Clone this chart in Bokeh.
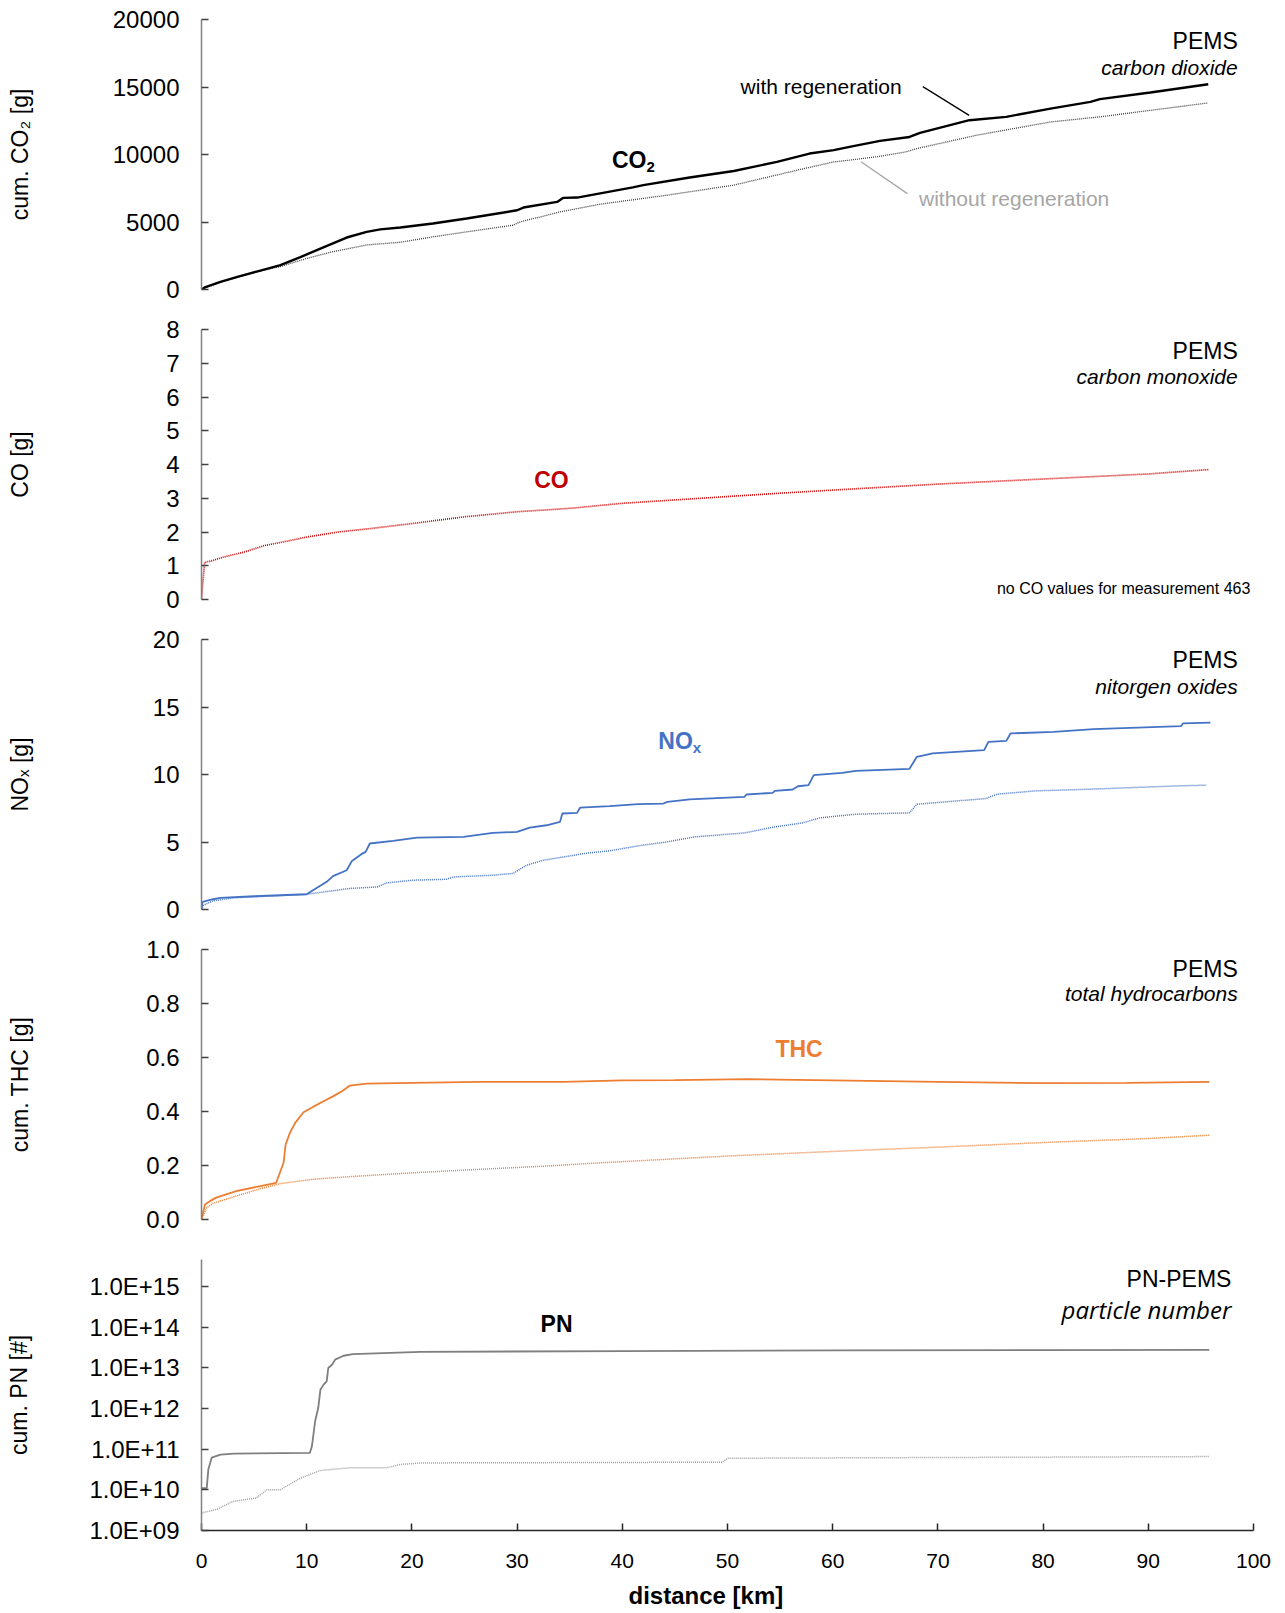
from bokeh.plotting import figure
from bokeh.layouts import column
from bokeh.models import Range1d, FixedTicker, CustomJSTickFormatter, NumeralTickFormatter, Title
from bokeh.core.properties import value
from bokeh.embed import file_html
from bokeh.resources import INLINE

FONT = "Liberation Sans"

# ---------------- data (distance in km) ----------------
co2_with_km = [0, 0.3, 1.8, 3.5, 5.6, 7.5, 9.4, 11.3, 13.8, 15.7, 17.0, 18.9, 22.0, 25.2, 30.0, 30.6,
               33.8, 34.4, 35.7, 41.0, 42.0, 46.4, 50.6, 54.7, 57.8, 60.1, 61.6, 64.5, 67.3, 68.3,
               73.0, 76.5, 80.7, 84.5, 85.4, 90.2, 95.7]
co2_with_g = [0, 150, 560, 950, 1400, 1800, 2400, 3030, 3850, 4270, 4450, 4590, 4890, 5260, 5870, 6070,
              6490, 6790, 6810, 7560, 7730, 8300, 8780, 9450, 10070, 10320, 10560, 11010, 11300, 11600,
              12540, 12790, 13400, 13900, 14100, 14590, 15200]
co2_without_km = [0, 1.8, 3.5, 5.6, 7.5, 10.0, 12.5, 15.7, 18.9, 22.0, 25.2, 29.6, 30.3, 34.1, 37.9,
                  44.2, 50.6, 56.9, 60.1, 61.6, 64.5, 67.0, 68.0, 73.7, 80.7, 85.4, 95.7]
co2_without_g = [0, 540, 930, 1380, 1700, 2300, 2800, 3300, 3500, 3900, 4270, 4760, 5010, 5750, 6320,
                 6980, 7730, 8890, 9450, 9580, 9870, 10200, 10440, 11430, 12410, 12790, 13820]

co_km = [0, 0.15, 0.3, 1, 2, 4, 6, 8, 10, 13, 16, 20, 25, 30, 35, 40, 45, 50, 55, 61.6, 70, 80, 90, 95.8]
co_g = [0, 0.6, 1.1, 1.15, 1.25, 1.4, 1.6, 1.72, 1.85, 2.0, 2.1, 2.25, 2.45, 2.6, 2.7, 2.85, 2.95,
        3.05, 3.15, 3.27, 3.42, 3.57, 3.72, 3.85]

nox_with_km = [0, 0.1, 1.1, 1.8, 5, 10, 10.6, 11.9, 12.5, 13.8, 14.3, 15.2, 15.6, 16.0, 18.2, 20.5,
               24.9, 27.7, 30, 31.2, 32.8, 34.08, 34.3, 35.7, 36.0, 38.8, 41.5, 43.9, 44.3, 46.4,
               51.6, 51.8, 54.3, 54.5, 56.2, 56.7, 57.7, 58.2, 60.9, 62.2, 67.3, 68.0, 69.5, 74.4,
               74.8, 76.5, 76.9, 81, 84.8, 93.1, 93.3, 95.9]
nox_with_g = [0, 0.56, 0.76, 0.86, 0.98, 1.13, 1.43, 2.05, 2.47, 2.91, 3.6, 4.1, 4.27, 4.89, 5.08, 5.33,
              5.38, 5.67, 5.75, 6.07, 6.24, 6.49, 7.11, 7.16, 7.55, 7.65, 7.8, 7.85, 7.97, 8.15,
              8.34, 8.52, 8.64, 8.79, 8.89, 9.13, 9.21, 9.95, 10.12, 10.27, 10.42, 11.31, 11.56, 11.8,
              12.42, 12.49, 13.04, 13.16, 13.36, 13.58, 13.78, 13.85]
nox_without_km = [0, 0.2, 1.1, 3, 10, 12.2, 14.1, 16.7, 17.6, 20.1, 23.3, 23.9, 27.7, 29.6, 30.9, 32.5,
                  34.1, 36.6, 38.8, 41.7, 44.1, 46.9, 51.6, 54.5, 57.1, 58.8, 62.2, 67.3, 68.0, 74.6,
                  75.6, 79.3, 84.4, 92.9, 95.5]
nox_without_g = [0, 0.32, 0.64, 0.86, 1.13, 1.36, 1.56, 1.67, 1.97, 2.17, 2.24, 2.41, 2.54, 2.67, 3.28,
                 3.65, 3.85, 4.17, 4.35, 4.74, 4.99, 5.38, 5.67, 6.12, 6.41, 6.79, 7.06, 7.16, 7.8,
                 8.22, 8.54, 8.79, 8.91, 9.16, 9.21]

thc_with_km = [0, 0.33, 0.8, 1.4, 3.3, 5.6, 7.1, 7.8, 8.0, 8.4, 8.9, 9.7, 10.6, 11.6, 12.5, 13.5, 14.1,
               15.7, 20.1, 26.5, 34.4, 40, 45, 52, 60, 70, 80, 88, 95.8]
thc_with_g = [0, 0.056, 0.068, 0.081, 0.105, 0.124, 0.136, 0.21, 0.278, 0.321, 0.358, 0.397, 0.417,
              0.438, 0.456, 0.479, 0.496, 0.503, 0.506, 0.510, 0.51, 0.515, 0.516, 0.52, 0.515, 0.51,
              0.505, 0.506, 0.51]
thc_without_km = [0, 0.5, 1.1, 3.3, 5.6, 7.5, 10.6, 13.8, 20.1, 26.5, 32.8, 37.9, 50, 60, 70, 80, 90, 95.8]
thc_without_g = [0, 0.044, 0.06, 0.087, 0.114, 0.133, 0.149, 0.158, 0.173, 0.186, 0.198, 0.21, 0.235,
                 0.252, 0.268, 0.285, 0.30, 0.312]

pn_with_km = [0, 0.5, 0.65, 0.97, 1.8, 3.1, 10.3, 10.5, 10.8, 11.1, 11.3, 11.6, 11.9, 12.05, 12.4, 12.7,
              13.5, 14.4, 20.8, 40, 60, 80, 95.8]
pn_with_n = [1.1e10, 1.1e10, 3.2e10, 6.2e10, 7.4e10, 7.8e10, 8.1e10, 1.2e11, 4.9e11, 1.05e12, 2.9e12,
             3.9e12, 4.7e12, 1.0e13, 1.2e13, 1.6e13, 2.0e13, 2.2e13, 2.5e13, 2.6e13, 2.7e13, 2.75e13, 2.8e13]
pn_without_km = [0, 1.45, 3.0, 5.2, 6.2, 7.5, 9.4, 11.3, 14.1, 17.6, 18.9, 20.8, 49.5, 50, 95.8]
pn_without_n = [2.7e9, 3.3e9, 5.2e9, 6.3e9, 1.0e10, 1.0e10, 1.95e10, 3.0e10, 3.5e10, 3.5e10, 4.2e10,
                4.6e10, 4.8e10, 6.0e10, 6.6e10]

x_ticks = [0, 10, 20, 30, 40, 50, 60, 70, 80, 90, 100]
pn_ticks = [1e9, 1e10, 1e11, 1e12, 1e13, 1e14, 1e15]

# ---------------- helpers ----------------
FW = 1052


def panel(y_range, frame_h=270, top=12, bottom=28, log=False, show_x=False):
    p = figure(frame_width=FW, frame_height=frame_h, x_range=Range1d(0, 100), y_range=y_range,
               y_axis_type="log" if log else "linear",
               x_axis_location="below" if show_x else None,
               output_backend="svg", toolbar_location=None,
               min_border_left=201, min_border_right=24, min_border_top=top, min_border_bottom=bottom)
    p.outline_line_color = None
    p.xgrid.visible = False
    p.ygrid.visible = False
    p.background_fill_color = "white"
    p.border_fill_color = "white"
    return p


def style_y(p, label, standoff, ticks):
    ax = p.yaxis[0]
    ax.ticker = FixedTicker(ticks=ticks)
    ax.axis_label = label
    ax.axis_label_text_font = FONT
    ax.axis_label_text_font_size = "23px"
    ax.axis_label_text_font_style = "normal"
    ax.axis_label_text_color = "#000000"
    ax.axis_label_standoff = standoff
    ax.major_label_text_font = FONT
    ax.major_label_text_font_size = "24px"
    ax.major_label_text_color = "#000000"
    ax.major_label_standoff = 22
    ax.major_tick_in = 7
    ax.major_tick_out = 0
    ax.minor_tick_line_color = None
    ax.axis_line_color = "#808080"
    ax.axis_line_width = 1.5
    ax.major_tick_line_color = "#404040"
    ax.major_tick_line_width = 1.5


def txt(p, x, y, t, size="21px", style="normal", color="#000000", align="right", font=FONT):
    p.text(x=[x], y=[y], text=[t], text_font=value(font), text_font_size=size,
           text_font_style=style, text_color=color, text_align=align, text_baseline="middle")


# ---------------- CO2 ----------------
p1 = panel(Range1d(0, 20000), top=19)
style_y(p1, "cum. CO\u2082 [g]", 77, [0, 5000, 10000, 15000, 20000])
p1.line(co2_without_km, co2_without_g, line_color="#404040", line_width=1.3, line_dash="1 1")
p1.line(co2_with_km, co2_with_g, line_color="#000000", line_width=2.4)
txt(p1, 98.5, 18380, "PEMS", size="23px")
txt(p1, 98.5, 16470, "carbon dioxide", style="italic")
txt(p1, 42.3, 9615, "CO", size="23px", style="bold")
txt(p1, 42.3, 9100, "2", size="15px", style="bold", align="left")
txt(p1, 58.9, 15030, "with regeneration", align="center")
p1.segment(x0=[68.57], y0=[15030], x1=[72.97], y1=[12896], line_color="#000000", line_width=1.3)
txt(p1, 68.2, 6718, "without regeneration", color="#a6a6a6", align="left")
p1.segment(x0=[62.69], y0=[9466], x1=[67.1], y1=[7103], line_color="#a6a6a6", line_width=1.3)

# ---------------- CO ----------------
p2 = panel(Range1d(0, 8))
style_y(p2, "CO [g]", 130, [0, 1, 2, 3, 4, 5, 6, 7, 8])
p2.line(co_km, co_g, line_color="#d00000", line_width=1.7, line_dash="1 1")
txt(p2, 98.5, 7.36, "PEMS", size="23px")
txt(p2, 98.5, 6.6, "carbon monoxide", style="italic")
txt(p2, 33.26, 3.53, "CO", size="23px", style="bold", color="#c00000", align="center")
txt(p2, 99.7, 0.33, "no CO values for measurement 463", size="16px")

# ---------------- NOx ----------------
p3 = panel(Range1d(0, 20))
style_y(p3, "NO\u2093 [g]", 117, [0, 5, 10, 15, 20])
p3.line(nox_without_km, nox_without_g, line_color="#4472c4", line_width=1.5, line_dash="1 1")
p3.line(nox_with_km, nox_with_g, line_color="#4472c4", line_width=1.8)
txt(p3, 98.5, 18.5, "PEMS", size="23px")
txt(p3, 98.5, 16.53, "nitorgen oxides", style="italic")
txt(p3, 46.7, 12.49, "NO", size="23px", style="bold", color="#4472c4")
txt(p3, 46.7, 12.0, "x", size="15px", style="bold", color="#4472c4", align="left")

# ---------------- THC ----------------
p4 = panel(Range1d(0, 1))
style_y(p4, "cum. THC [g]", 110, [0, 0.2, 0.4, 0.6, 0.8, 1.0])
p4.yaxis[0].formatter = NumeralTickFormatter(format="0.0")
p4.line(thc_without_km, thc_without_g, line_color="#ed7d31", line_width=1.5, line_dash="1 1")
p4.line(thc_with_km, thc_with_g, line_color="#ed7d31", line_width=1.8)
txt(p4, 98.5, 0.928, "PEMS", size="23px")
txt(p4, 98.5, 0.837, "total hydrocarbons", style="italic")
txt(p4, 56.8, 0.631, "THC", size="23px", style="bold", color="#ed7d31", align="center")

# ---------------- PN ----------------
p5 = panel(Range1d(1e9, 10 ** 15.67), frame_h=271, bottom=0, log=True, show_x=True)
style_y(p5, "cum. PN [#]", 54, pn_ticks)
p5.yaxis[0].formatter = CustomJSTickFormatter(
    code="var e = Math.round(Math.log10(tick)); return '1.0E+' + (e < 10 ? '0' + e : '' + e);")
p5.line(pn_without_km, pn_without_n, line_color="#a0a0a0", line_width=1.5, line_dash="1 1")
p5.line(pn_with_km, pn_with_n, line_color="#7f7f7f", line_width=1.8)
txt(p5, 97.9, 1.57e15, "PN-PEMS", size="23px")
txt(p5, 97.9, 2.7e14, "particle number", size="24px", style="italic", font="Open Sans")
txt(p5, 33.75, 1.22e14, "PN", size="23px", style="bold", align="center")

xa = p5.xaxis[0]
xa.ticker = FixedTicker(ticks=x_ticks)
xa.major_label_text_font = FONT
xa.major_label_text_font_size = "21px"
xa.major_label_text_color = "#000000"
xa.major_label_standoff = 23
xa.major_tick_in = 7
xa.major_tick_out = 0
xa.minor_tick_line_color = None
xa.axis_line_color = "#262626"
xa.axis_line_width = 1.5
xa.major_tick_line_color = "#262626"
xa.major_tick_line_width = 1.5

x_title = Title(text="distance [km]", align="left", offset=427, standoff=18,
                text_font=FONT, text_font_size="24px", text_font_style="bold", text_color="#000000")
p5.add_layout(x_title, "below")

layout = column(p1, p2, p3, p4, p5, spacing=0)

with open("out.html", "w") as f:
    f.write(file_html(layout, INLINE, title="PEMS cumulative emissions"))
